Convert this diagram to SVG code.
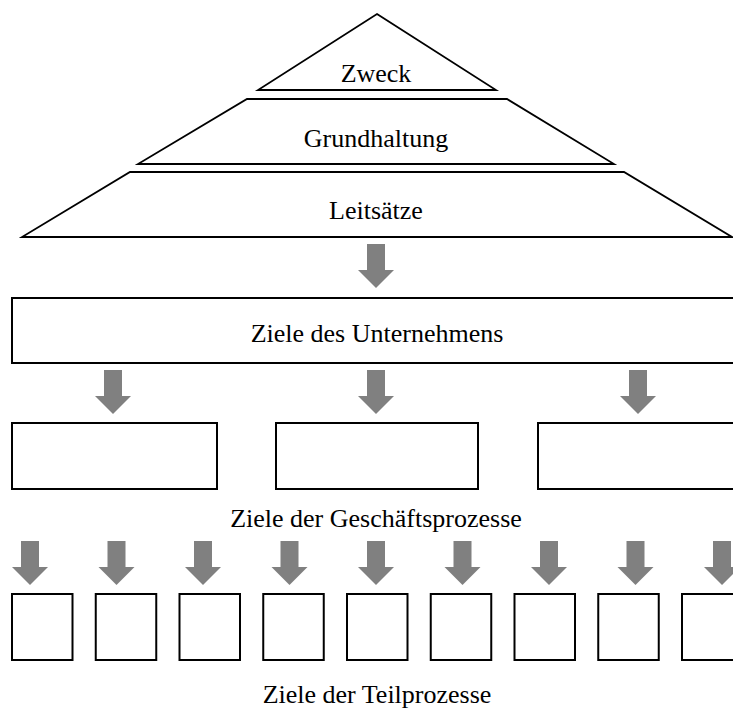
<svg xmlns="http://www.w3.org/2000/svg" width="733" height="708" viewBox="0 0 733 708">
  <defs>
    <style>
      .shape { fill: #ffffff; stroke: #000000; stroke-width: 2; }
      .pyr { fill: #ffffff; stroke: #000000; stroke-width: 1.8; stroke-linejoin: miter; }
      .arrow { fill: #808080; stroke: none; }
      .label { font-family: "Liberation Serif", "Times New Roman", serif; font-size: 26px; fill: #000000; text-anchor: middle; }
    </style>
    <!-- block arrow pointing down, tip at (0,44) -->
    <path id="downArrow" class="arrow" d="M-9,0 H9 V26 H18 L0,44 L-18,26 H-9 Z"/>
  </defs>
  <rect width="733" height="708" fill="#ffffff"/>

  <!-- pyramid -->
  <g id="zweck">
    <path class="pyr" d="M377,14 L496,90 L258,90 Z"/>
    <text class="label" x="376" y="82">Zweck</text>
  </g>
  <g id="grundhaltung">
    <path class="pyr" d="M247,99 L507,99 L614,164 L138,164 Z"/>
    <text class="label" x="376" y="147">Grundhaltung</text>
  </g>
  <g id="leitsaetze">
    <path class="pyr" d="M130,172 L624,172 L732,237 L22,237 Z"/>
    <text class="label" x="376" y="219">Leitsätze</text>
  </g>

  <!-- company goals -->
  <g id="ziele-unternehmen">
    <rect class="shape" x="12" y="298" width="730" height="65"/>
    <text class="label" x="377" y="342">Ziele des Unternehmens</text>
  </g>

  <!-- business process goals -->
  <g id="gp-1"><rect class="shape" x="12" y="423" width="205" height="66"/></g>
  <g id="gp-2"><rect class="shape" x="276" y="423" width="202" height="66"/></g>
  <g id="gp-3"><rect class="shape" x="538" y="423" width="204" height="66"/></g>
  <g id="ziele-geschaeftsprozesse">
    <text class="label" x="376" y="527">Ziele der Geschäftsprozesse</text>
  </g>

  <!-- sub-process goals -->
  <g id="tp-1"><rect class="shape" x="12" y="594" width="60.5" height="66"/></g>
  <g id="tp-2"><rect class="shape" x="95.75" y="594" width="60.5" height="66"/></g>
  <g id="tp-3"><rect class="shape" x="179.5" y="594" width="60.5" height="66"/></g>
  <g id="tp-4"><rect class="shape" x="263.25" y="594" width="60.5" height="66"/></g>
  <g id="tp-5"><rect class="shape" x="347" y="594" width="60.5" height="66"/></g>
  <g id="tp-6"><rect class="shape" x="430.75" y="594" width="60.5" height="66"/></g>
  <g id="tp-7"><rect class="shape" x="514.5" y="594" width="60.5" height="66"/></g>
  <g id="tp-8"><rect class="shape" x="598.25" y="594" width="60.5" height="66"/></g>
  <g id="tp-9"><rect class="shape" x="682" y="594" width="60.5" height="66"/></g>
  <g id="ziele-teilprozesse">
    <text class="label" x="377" y="703">Ziele der Teilprozesse</text>
  </g>

  <!-- connectors -->
  <g id="connectors">
    <use href="#downArrow" x="376" y="244"/>
    <use href="#downArrow" x="113" y="370"/>
    <use href="#downArrow" x="376" y="370"/>
    <use href="#downArrow" x="638" y="370"/>
    <use href="#downArrow" x="30" y="541"/>
    <use href="#downArrow" x="116.5" y="541"/>
    <use href="#downArrow" x="203" y="541"/>
    <use href="#downArrow" x="289.5" y="541"/>
    <use href="#downArrow" x="376" y="541"/>
    <use href="#downArrow" x="462.5" y="541"/>
    <use href="#downArrow" x="549" y="541"/>
    <use href="#downArrow" x="635.5" y="541"/>
    <use href="#downArrow" x="722" y="541"/>
  </g>
</svg>
